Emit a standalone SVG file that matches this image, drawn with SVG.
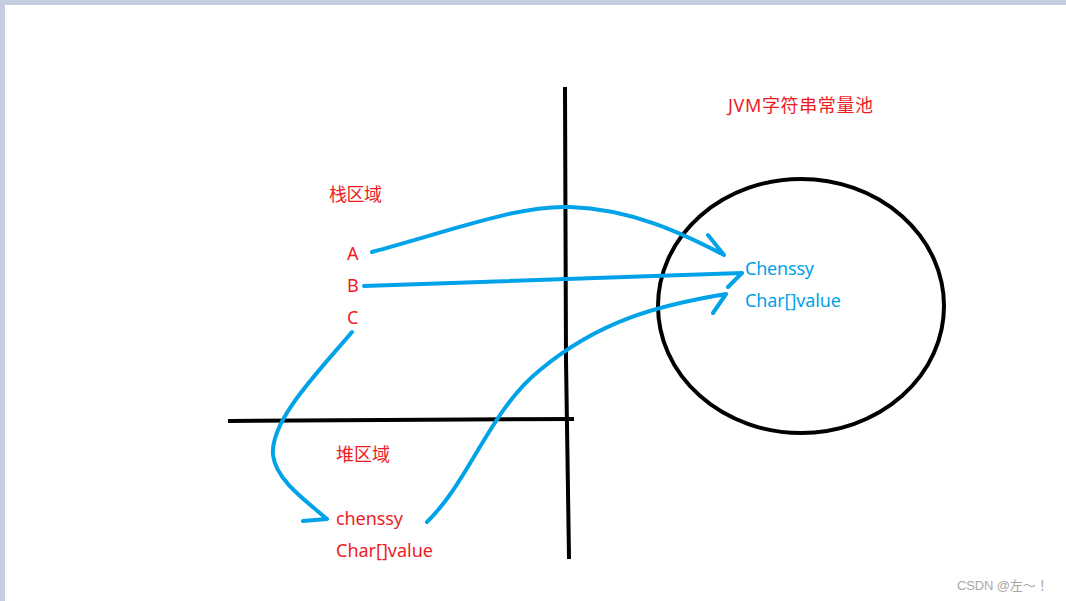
<svg xmlns="http://www.w3.org/2000/svg" width="1066" height="601" viewBox="0 0 1066 601">
<style>
.red{fill:#ed1c24;font-family:"Noto Sans","Noto Sans CJK SC",sans-serif;font-size:18px}
.blue{fill:#00a2e8;font-family:"Noto Sans","Noto Sans CJK SC",sans-serif;font-size:18px}
.blk{stroke:#000;stroke-width:4;fill:none;stroke-linecap:square}
.arr{stroke:#00a2e8;stroke-width:4;fill:none;stroke-linecap:round;stroke-linejoin:round}
</style>
<rect x="0" y="0" width="1066" height="601" fill="#fff"/>
<rect x="0" y="0" width="1066" height="5" fill="#c5cfe0"/>
<rect x="0" y="0" width="5" height="601" fill="#c5cfe0"/>
<g id="walls">
<path class="blk" d="M565 89 L566 360 L569 557"/>
<path class="blk" d="M230 421 L572 419"/>
</g>
<g id="pool">
<ellipse cx="801" cy="306" rx="143" ry="127" stroke="#000" stroke-width="4" fill="none"/>
<text class="red" x="728" y="112" textLength="145">JVM字符串常量池</text>
<text class="blue" x="745" y="275" textLength="69">Chenssy</text>
<text class="blue" x="745" y="307" textLength="96">Char[]value</text>
</g>
<g id="stack">
<text class="red" x="329" y="201" textLength="53">栈区域</text>
<text class="red" x="347" y="260">A</text>
<text class="red" x="347" y="292">B</text>
<text class="red" x="347" y="324">C</text>
</g>
<g id="heap">
<text class="red" x="336" y="461" textLength="54">堆区域</text>
<text class="red" x="336" y="525" textLength="67">chenssy</text>
<text class="red" x="336" y="557" textLength="97">Char[]value</text>
</g>
<g id="connectors">
<path class="arr" d="M372 252 C460 228 520 205 570 207 C630 209 680 232 724 255 M708 235 L724 255"/>
<path class="arr" d="M364 286 L742 273 M728 287 L742 273"/>
<path class="arr" d="M427 522 C470 480 490 410 540 370 C600 320 660 305 726 294 M713 313 L726 294"/>
<path class="arr" d="M352 332 C320 370 270 420 273 455 C276 480 305 500 327 519 L303 521"/>
</g>
<text x="957" y="590" fill="#a8a8a8" font-family="'Liberation Sans','Noto Sans CJK SC',sans-serif" font-size="13" textLength="95">CSDN @左～ ！</text>
</svg>
